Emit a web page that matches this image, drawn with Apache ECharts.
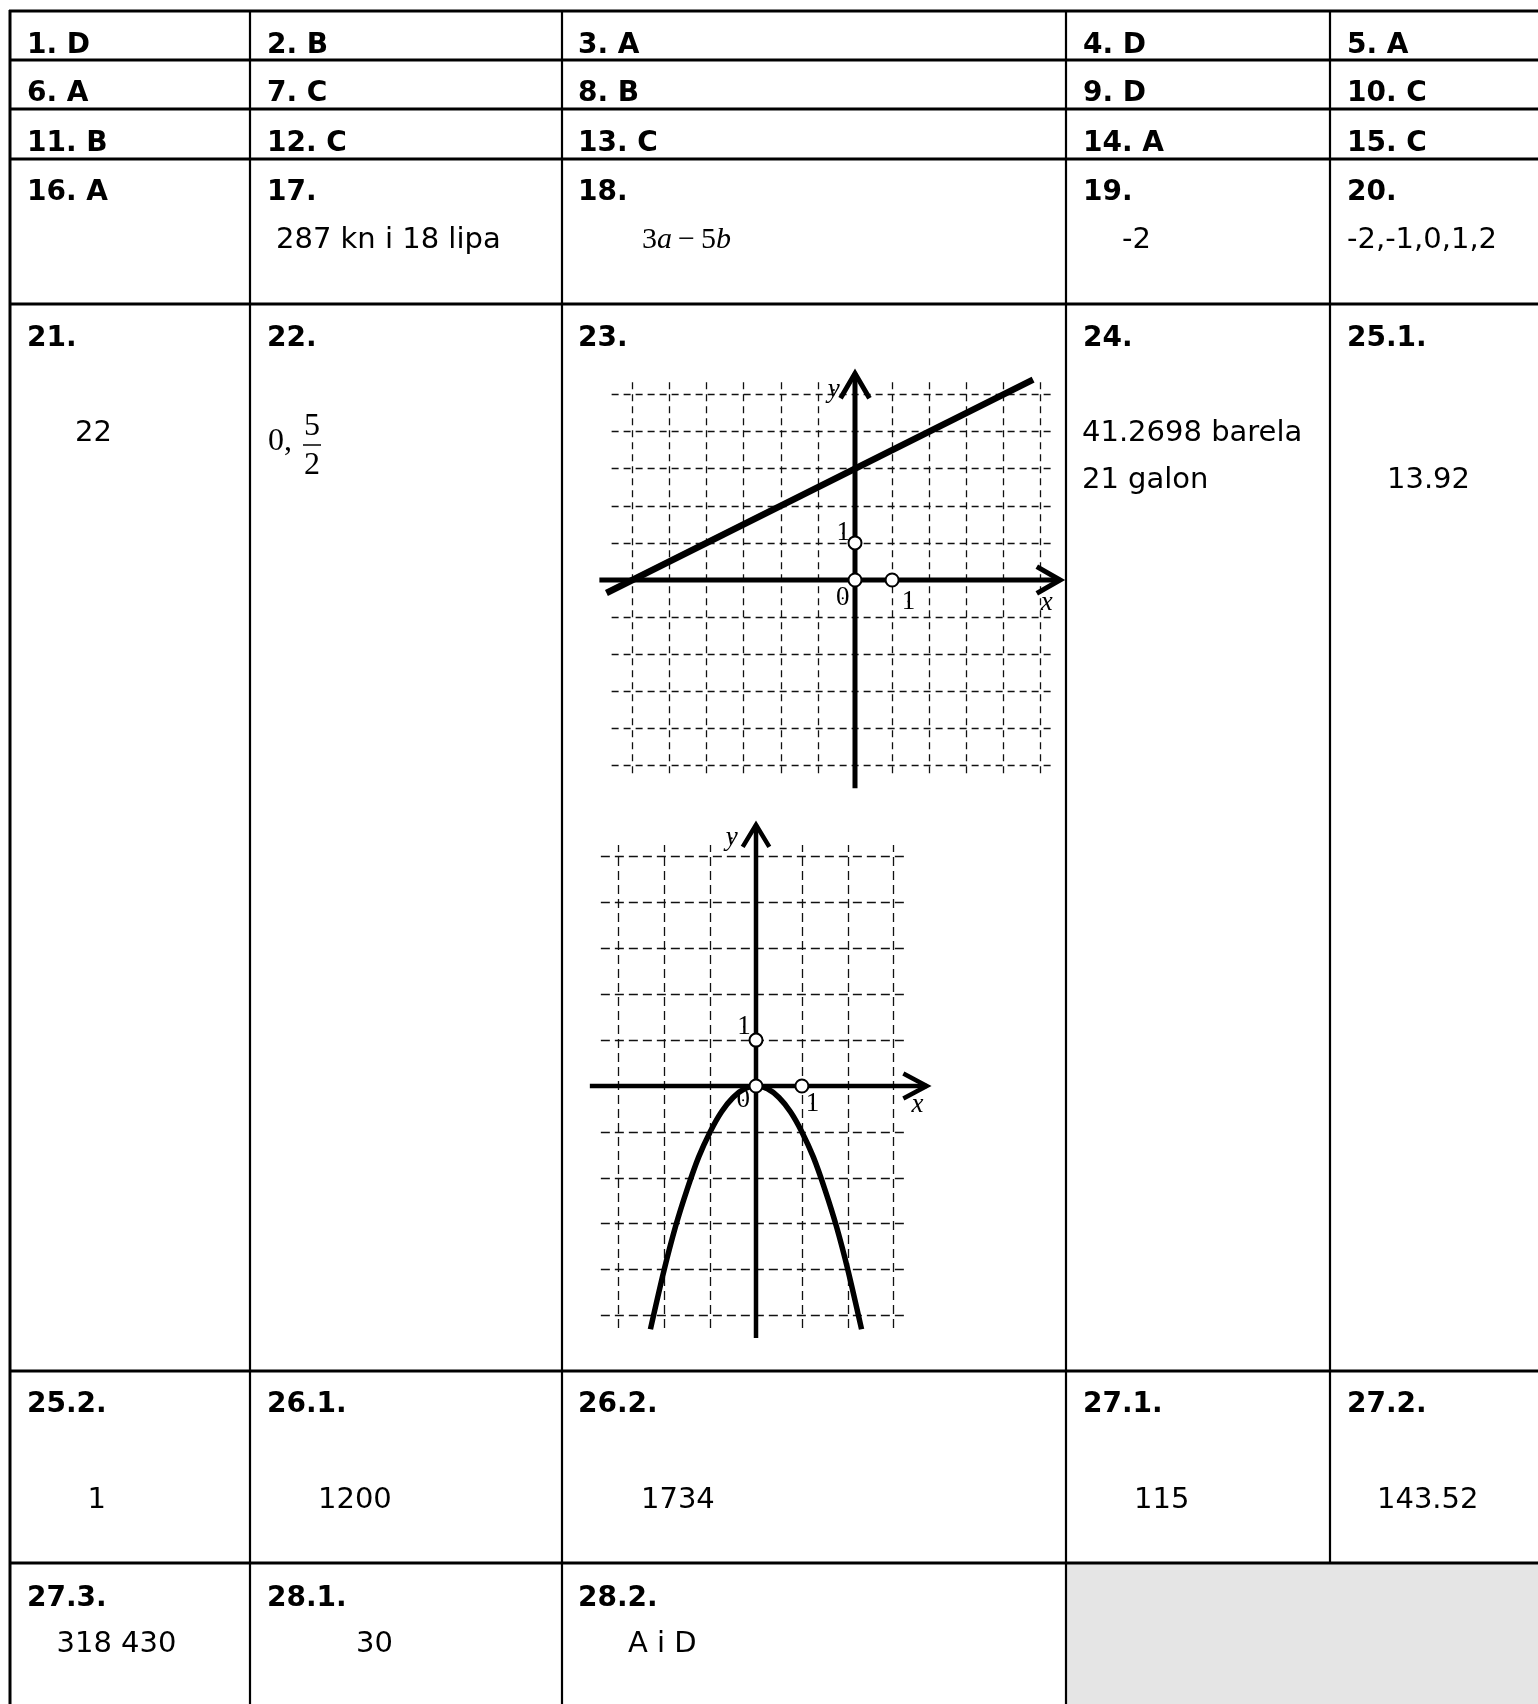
<!DOCTYPE html>
<html><head><meta charset="utf-8">
<script src="https://cdn.jsdelivr.net/npm/echarts@6/dist/echarts.min.js"></script>
<style>html,body{margin:0;padding:0;background:#fff;}#c{width:1538px;height:1704px;}</style>
</head><body><div id="c"></div>
<script>
// ---------------- table content ----------------
const questionRows = [
  ['1. D', '2. B', '3. A', '4. D', '5. A'],
  ['6. A', '7. C', '8. B', '9. D', '10. C'],
  ['11. B', '12. C', '13. C', '14. A', '15. C'],
  ['16. A', '17.', '18.', '19.', '20.'],
  ['21.', '22.', '23.', '24.', '25.1.'],
  ['25.2.', '26.1.', '26.2.', '27.1.', '27.2.'],
  ['27.3.', '28.1.', '28.2.']
];
const answersRow17to20 = ['287 kn i 18 lipa', '-2', '-2,-1,0,1,2'];
const answer18 = ['3', 'a', '\u2009\u2212\u20095', 'b'];
const answer21 = '22';
const answer22 = ['0,', '5', '2'];
const answer24 = ['41.2698 barela', '21 galon'];
const answer251 = '13.92';
const answersRow25to27 = ['1', '1200', '1734', '115', '143.52'];
const answersRow27to28 = ['318 430', '30', 'A i D'];

// ---------------- graph 1 (line) ----------------
const g1GridX = [-6, -5, -4, -3, -2, -1, 0, 1, 2, 3, 4, 5];
const g1GridY = [-5, -4, -3, -2, -1, 0, 1, 2, 3, 4, 5];
const g1LineX = [-6.7, 4.8];
const g1LineY = [-0.35, 5.4];
const g1Points = [[0, 1], [0, 0], [1, 0]];
const g1TickLabels = ['1', '0', '1', 'x', 'y'];

// ---------------- graph 2 (parabola) ----------------
const g2GridX = [-3, -2, -1, 0, 1, 2, 3];
const g2GridY = [-5, -4, -3, -2, -1, 0, 1, 2, 3, 4, 5];
const g2CurveX = [-2.3, -2.0, -1.75, -1.5, -1.25, -1.0, -0.75, -0.5, -0.25, 0, 0.25, 0.5, 0.75, 1.0, 1.25, 1.5, 1.75, 2.0, 2.3];
const g2CurveY = [-5.3, -4.0, -3.05, -2.25, -1.55, -1.0, -0.56, -0.25, -0.06, 0, -0.06, -0.25, -0.56, -1.0, -1.55, -2.25, -3.05, -4.0, -5.3];
const g2Points = [[0, 1], [0, 0], [1, 0]];
const g2TickLabels = ['1', '0', '1', 'x', 'y'];

// ---------------- layout (pixels) ----------------
const rowLinesY = [11, 60, 109, 159, 304, 1371, 1563];
const colLinesX = [10, 250, 562, 1066, 1330];
const labelX = [27, 267, 578, 1083, 1347];
const labelBaseY = [55, 103.5, 153.5, 202, 348.5, 1414.5, 1608.5];

const BOLD = 'bold 28px "DejaVu Sans"';
const NORM = '29px "DejaVu Sans"';
function txt(text, x, base, font, size, extra) {
  return { type: 'text', silent: true, z: 10,
    style: Object.assign({ text: text, x: x, y: base - 0.346 * size, font: font, fill: '#000',
      align: 'left', verticalAlign: 'middle' }, extra || {}) };
}

const graphic = [];
graphic.push({ type: 'rect', silent: true, z: 1, shape: { x: 1066, y: 1563, width: 472, height: 141 }, style: { fill: '#e5e5e5' } });
rowLinesY.forEach(y => graphic.push({ type: 'line', silent: true, z: 5, shape: { x1: 9, y1: y, x2: 1538, y2: y }, style: { stroke: '#000', lineWidth: 3 } }));
colLinesX.forEach((x, i) => graphic.push({ type: 'line', silent: true, z: 5,
  shape: { x1: x, y1: 10, x2: x, y2: i === 4 ? 1563 : 1704 }, style: { stroke: '#000', lineWidth: i === 0 ? 3 : 2.2 } }));
questionRows.forEach((row, r) => row.forEach((t, c) => graphic.push(txt(t, labelX[c], labelBaseY[r], BOLD, 28))));
graphic.push(txt(answersRow17to20[0], 276, 250.5, NORM, 29));
graphic.push(txt(answersRow17to20[1], 1122, 250.5, NORM, 29));
graphic.push(txt(answersRow17to20[2], 1347, 250.5, NORM, 29));
graphic.push({ type: 'text', silent: true, z: 10, style: {
  text: '{n|' + answer18[0] + '}{i|' + answer18[1] + '}{n|' + answer18[2] + '}{i|' + answer18[3] + '}',
  x: 642, y: 250 - 0.338 * 30, verticalAlign: 'middle', align: 'left', fill: '#000',
  rich: { n: { fontFamily: 'Liberation Serif', fontSize: 30, fill: '#000' },
          i: { fontFamily: 'Liberation Serif', fontSize: 30, fontStyle: 'italic', fill: '#000' } } } });
graphic.push(txt(answer21, 75, 444, NORM, 29));
graphic.push(txt(answer22[0], 268, 453, '32px "Liberation Serif"', 32));
graphic.push(txt(answer22[1], 312, 438, '32px "Liberation Serif"', 32, { align: 'center' }));
graphic.push(txt(answer22[2], 312, 476.5, '32px "Liberation Serif"', 32, { align: 'center' }));
graphic.push({ type: 'line', silent: true, z: 10, shape: { x1: 303, y1: 445, x2: 321, y2: 445 }, style: { stroke: '#000', lineWidth: 1.5 } });
graphic.push(txt(answer24[0], 1082, 444, NORM, 29));
graphic.push(txt(answer24[1], 1082, 491, NORM, 29));
graphic.push(txt(answer251, 1387, 491, NORM, 29));
[87.5, 318, 641, 1134, 1377].forEach((x, i) => graphic.push(txt(answersRow25to27[i], x, 1511, NORM, 29)));
[56.5, 356, 628].forEach((x, i) => graphic.push(txt(answersRow27to28[i], x, 1655, NORM, 29)));

// ---------------- series builders ----------------
function gridLines(xs, ys, xr, yr) {
  const d = [];
  xs.forEach(x => d.push({ coords: [[x, yr[0]], [x, yr[1]]] }));
  ys.forEach(y => d.push({ coords: [[xr[0], y], [xr[1], y]] }));
  return d;
}
const g1 = { xMin: -6.89, xTip: 5.53, yMin: -5.61, yTip: 5.57 };
const g2 = { xMin: -3.62, xTip: 3.72, yMin: -5.49, yTip: 5.69 };
function axesData(a, ax, ay, bx, by) {
  return [
    { coords: [[a.xMin, 0], [a.xTip, 0]] },
    { coords: [[a.xTip - ax, ay], [a.xTip, 0], [a.xTip - ax, -ay]] },
    { coords: [[0, a.yMin], [0, a.yTip]] },
    { coords: [[-bx, a.yTip - by], [0, a.yTip], [bx, a.yTip - by]] }
  ];
}
function labelData(pos, texts) {
  return pos.map((p, i) => ({ value: p, name: texts[i],
    label: (texts[i] === 'x' || texts[i] === 'y') ? { fontStyle: 'italic' } : {} }));
}
const g1LabelPos = [[-0.32, 1.26], [-0.33, -0.49], [1.44, -0.58], [5.17, -0.63], [-0.57, 5.12]];
const g2LabelPos = [[-0.26, 1.29], [-0.28, -0.31], [1.23, -0.38], [3.52, -0.41], [-0.53, 5.40]];
const labelSeriesStyle = { show: true, position: 'inside', formatter: '{b}', fontFamily: 'Liberation Serif',
  fontSize: 27, color: '#000', opacity: 1, textBorderWidth: 0, textShadowBlur: 0 };

const option = {
  animation: false,
  backgroundColor: '#fff',
  grid: [
    { left: 855 - 7 * 37.1, top: 580 - 6 * 37.1, width: 13 * 37.1, height: 12 * 37.1 },
    { left: 756 - 4 * 45.9, top: 1086 - 6 * 45.9, width: 8 * 45.9, height: 12 * 45.9 }
  ],
  xAxis: [
    { gridIndex: 0, type: 'value', min: -7, max: 6, show: false },
    { gridIndex: 1, type: 'value', min: -4, max: 4, show: false }
  ],
  yAxis: [
    { gridIndex: 0, type: 'value', min: -6, max: 6, show: false },
    { gridIndex: 1, type: 'value', min: -6, max: 6, show: false }
  ],
  graphic: graphic,
  series: [
    { type: 'lines', coordinateSystem: 'cartesian2d', xAxisIndex: 0, yAxisIndex: 0, silent: true, z: 2,
      data: gridLines(g1GridX, g1GridY, [-6.56, 5.3], [-5.21, 5.35]),
      lineStyle: { color: '#111', width: 1.3, type: [7, 5], opacity: 1 } },
    { type: 'lines', coordinateSystem: 'cartesian2d', xAxisIndex: 0, yAxisIndex: 0, silent: true, z: 3, polyline: true,
      data: axesData(g1, 0.63, 0.36, 0.39, 0.67),
      lineStyle: { color: '#000', width: 5, opacity: 1 } },
    { type: 'line', xAxisIndex: 0, yAxisIndex: 0, silent: true, z: 4, showSymbol: false, clip: false,
      data: g1LineX.map((x, i) => [x, g1LineY[i]]),
      lineStyle: { color: '#000', width: 6.5 } },
    { type: 'scatter', xAxisIndex: 0, yAxisIndex: 0, silent: true, z: 6, symbolSize: 13,
      data: g1Points, itemStyle: { color: '#fff', borderColor: '#000', borderWidth: 2, opacity: 1 } },
    { type: 'scatter', xAxisIndex: 0, yAxisIndex: 0, silent: true, z: 7, symbolSize: 2,
      data: labelData(g1LabelPos, g1TickLabels), itemStyle: { color: '#000', opacity: 1 }, label: labelSeriesStyle },
    { type: 'lines', coordinateSystem: 'cartesian2d', xAxisIndex: 1, yAxisIndex: 1, silent: true, z: 2,
      data: gridLines(g2GridX, g2GridY, [-3.38, 3.27], [-5.27, 5.25]),
      lineStyle: { color: '#111', width: 1.3, type: [9, 5], opacity: 1 } },
    { type: 'lines', coordinateSystem: 'cartesian2d', xAxisIndex: 1, yAxisIndex: 1, silent: true, z: 3, polyline: true,
      data: axesData(g2, 0.51, 0.27, 0.29, 0.48),
      lineStyle: { color: '#000', width: 4.5, opacity: 1 } },
    { type: 'line', xAxisIndex: 1, yAxisIndex: 1, silent: true, z: 4, showSymbol: false, clip: false, smooth: 0.3,
      data: g2CurveX.map((x, i) => [x, g2CurveY[i]]),
      lineStyle: { color: '#000', width: 5.5 } },
    { type: 'scatter', xAxisIndex: 1, yAxisIndex: 1, silent: true, z: 6, symbolSize: 13,
      data: g2Points, itemStyle: { color: '#fff', borderColor: '#000', borderWidth: 2, opacity: 1 } },
    { type: 'scatter', xAxisIndex: 1, yAxisIndex: 1, silent: true, z: 7, symbolSize: 2,
      data: labelData(g2LabelPos, g2TickLabels), itemStyle: { color: '#000', opacity: 1 }, label: labelSeriesStyle }
  ]
};
const chart = echarts.init(document.getElementById('c'), null, { renderer: 'canvas' });
chart.setOption(option);
</script>
</body></html>
